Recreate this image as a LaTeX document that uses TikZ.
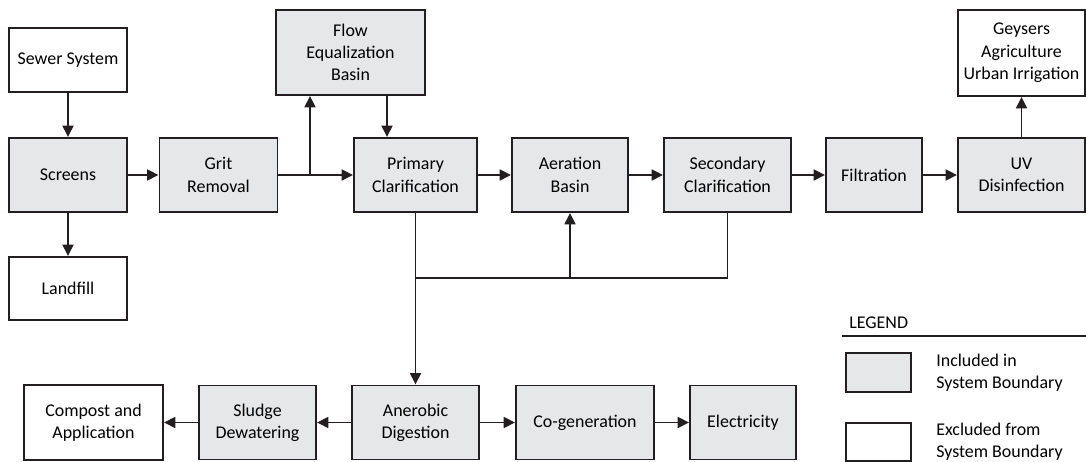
\documentclass[tikz,border=0pt]{standalone}
\usepackage{fontspec}
\setmainfont{Carlito}
\usepackage{tikz}
\usetikzlibrary{arrows.meta}

\definecolor{boxgray}{HTML}{E6E7E8}
\definecolor{linegray}{HTML}{231F20}

\begin{document}
\begin{tikzpicture}[x=0.02cm,y=-0.02cm]
\useasboundingbox (0,0) rectangle (1086,462);
% boxes inside the system boundary
\begin{scope}[every node/.style={rectangle,draw=linegray,line width=1.1pt,fill=boxgray,
              align=center,inner sep=2pt,minimum width=2.36cm,minimum height=1.48cm,
              font=\fontsize{10.2}{12.7}\selectfont}]
    \node (screens) at (68.0, 175.0) {Screens};
    \node (grit) at (218.5, 175.0) {Grit\\Removal};
    \node [minimum width=2.98cm, minimum height=1.70cm] (feq) at (350.5, 52.5) {Flow\\Equalization\\Basin};
    \node [minimum width=2.46cm] (prim) at (415.5, 175.0) {Primary\\Clarification};
    \node [minimum width=2.32cm] (aer) at (570.0, 175.0) {Aeration\\Basin};
    \node [minimum width=2.54cm] (sec) at (727.5, 175.0) {Secondary\\Clarification};
    \node [minimum width=1.92cm] (filt) at (874.0, 175.0) {Filtration};
    \node [minimum width=2.54cm] (uv) at (1021.5, 175.0) {UV\\Disinfection};
    \node [minimum width=2.34cm] (sludge) at (257.5, 422.5) {Sludge\\Dewatering};
    \node [minimum width=2.54cm] (digest) at (415.5, 422.5) {Anerobic\\Digestion};
    \node [minimum width=2.76cm] (cogen) at (585.0, 422.5) {Co-generation};
    \node [minimum width=2.12cm] (elec) at (743.0, 422.5) {Electricity};
\end{scope}
% boxes outside the system boundary
\begin{scope}[every node/.style={rectangle,draw=linegray,line width=1.1pt,fill=white,
              align=center,inner sep=2pt,minimum width=2.36cm,minimum height=1.28cm,
              font=\fontsize{10.2}{12.7}\selectfont}]
    \node (sewer) at (68.0, 60.0) {Sewer System};
    \node [minimum height=1.26cm] (landfill) at (68.0, 288.5) {Landfill};
    \node [minimum width=2.54cm, minimum height=1.72cm] (reuse) at (1021.5, 53.0) {Geysers\\Agriculture\\Urban Irrigation};
    \node [minimum width=2.78cm, minimum height=1.50cm] (compost) at (93.5, 422.5) {Compost and\\Application};
\end{scope}
\coordinate (split) at (310, 175);
\coordinate (feqout) at (387, 95);
\coordinate (ret) at (415.5, 278);
\begin{scope}[>={Triangle[length=6.5pt,width=6.2pt]},
              flow/.style={draw=linegray,line width=1.05pt}]
    \path [->] (sewer) edge [flow] (screens);
    \path [->] (screens) edge [flow] (landfill);
    \path [->] (screens) edge [flow] (grit);
    \path [-] (grit) edge [flow] (split);
    \path [->] (split) edge [flow] (prim);
    \path [->] (split) edge [flow] (split |- feq.south);
    \path [->] (feqout) edge [flow] (feqout |- prim.north);
    \path [->] (prim) edge [flow] (aer);
    \path [->] (aer) edge [flow] (sec);
    \path [->] (sec) edge [flow] (filt);
    \path [->] (filt) edge [flow] (uv);
    \path [->] (uv) edge [flow] (reuse);
    \path [->] (prim) edge [flow] (digest);
    \draw [flow] (sec.south) |- (ret);
    \path [->] (aer.south |- ret) edge [flow] (aer.south);
    \path [->] (digest) edge [flow] (sludge);
    \path [->] (sludge) edge [flow] (compost);
    \path [->] (digest) edge [flow] (cogen);
    \path [->] (cogen) edge [flow] (elec);
\end{scope}
% legend
\begin{scope}[every node/.style={font=\fontsize{10.2}{12.7}\selectfont}]
    \node [anchor=west, inner sep=0pt] (legtitle) at (849, 323) {LEGEND};
    \draw [draw=linegray, line width=1.1pt] (842, 336) -- (1086, 336);
    \node [draw=linegray, line width=1.1pt, fill=boxgray, minimum width=1.30cm, minimum height=0.78cm] (keyin) at (878.5, 372.5) {};
    \node [draw=linegray, line width=1.1pt, fill=white, minimum width=1.30cm, minimum height=0.76cm] (keyout) at (878.5, 442.0) {};
    \node [anchor=west, align=left, inner sep=0pt] (keyintext) at (936, 372.5) {Included in\\System Boundary};
    \node [anchor=west, align=left, inner sep=0pt] (keyouttext) at (936, 442.0) {Excluded from\\System Boundary};
\end{scope}
\end{tikzpicture}
\end{document}
